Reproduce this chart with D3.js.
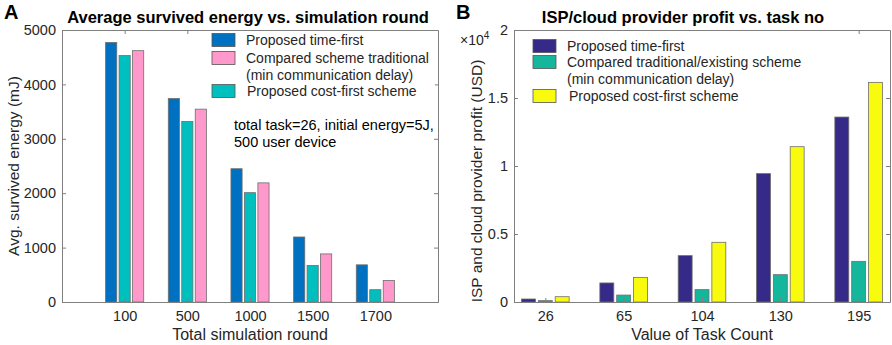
<!DOCTYPE html>
<html>
<head>
<meta charset="utf-8">
<script src="https://cdn.jsdelivr.net/npm/d3@7"></script>
<style>
  html, body { margin: 0; padding: 0; background: #fff; }
  svg { display: block; font-family: "Liberation Sans", Arial, sans-serif; }
</style>
</head>
<body>
<div id="vis"></div>
<script>
// Panel A data: average survived energy (mJ)
const roundsA = ["100", "500", "1000", "1500", "1700"];
const timeFirstA = [4770, 3740, 2450, 1195, 683];
const costFirstA = [4530, 3320, 2010, 671, 226];
const traditionalA = [4620, 3545, 2190, 884, 396];
const yTicksA = [0, 1000, 2000, 3000, 4000, 5000];

// Panel B data: ISP/cloud provider profit (USD)
const tasksB = ["26", "65", "104", "130", "195"];
const timeFirstB = [220, 1400, 3410, 9440, 13600];
const traditionalB = [100, 510, 910, 2010, 2990];
const costFirstB = [390, 1810, 4390, 11420, 16150];
const yTicksB = [0, 5000, 10000, 15000, 20000];

const width = 892;
const height = 345;

const svg = d3.select("#vis")
  .append("svg")
  .attr("width", width)
  .attr("height", height);

const axisColor = "#7f7f7f";
const textColor = "#262626";

function drawPanel(cfg) {
  const g = svg.append("g");

  const x = d3.scaleLinear().domain(cfg.xDomain).range([cfg.left, cfg.right]);
  const y = d3.scaleLinear().domain(cfg.yDomain).range([cfg.bottom, cfg.top]);
  const unit = x(1) - x(0);
  const pitch = 0.215 * unit;
  const barW = 0.178 * unit;
  const positions = cfg.categories.map((c, i) => i + 1);

  // bars
  cfg.series.forEach((s, si) => {
    g.selectAll(null)
      .data(s.values)
      .enter()
      .append("rect")
      .attr("x", (d, i) => x(positions[i]) + (si - 1) * pitch - barW / 2)
      .attr("y", d => y(d))
      .attr("width", barW)
      .attr("height", d => y(0) - y(d))
      .attr("fill", s.color)
      .attr("stroke", "#6e6e6e")
      .attr("stroke-width", 0.8);
  });

  // box axes with inward ticks
  const styleAxis = sel => {
    sel.select(".domain").attr("stroke", axisColor);
    sel.selectAll(".tick line").attr("stroke", axisColor);
    sel.selectAll("text")
      .attr("fill", textColor)
      .style("font-size", "14.5px")
      .style("font-family", "'Liberation Sans', Arial, sans-serif");
  };

  g.append("g")
    .attr("transform", `translate(0,${cfg.top})`)
    .call(d3.axisTop(x).tickValues(positions).tickSizeInner(-4).tickSizeOuter(0).tickFormat(""))
    .call(styleAxis);

  g.append("g")
    .attr("transform", `translate(${cfg.right},0)`)
    .call(d3.axisRight(y).tickValues(cfg.yTicks).tickSizeInner(-4).tickSizeOuter(0).tickFormat(""))
    .call(styleAxis);

  g.append("g")
    .attr("transform", `translate(0,${cfg.bottom})`)
    .call(d3.axisBottom(x).tickValues(positions).tickSizeInner(-4).tickSizeOuter(0)
      .tickPadding(9).tickFormat((d, i) => cfg.categories[i]))
    .call(styleAxis);

  g.append("g")
    .attr("transform", `translate(${cfg.left},0)`)
    .call(d3.axisLeft(y).tickValues(cfg.yTicks).tickSizeInner(-4).tickSizeOuter(0)
      .tickPadding(6).tickFormat(cfg.yFormat))
    .call(styleAxis);

  // legend (white background hides ticks behind it)
  const leg = g.append("g");
  const legBg = leg.append("rect").attr("fill", "#fff");
  cfg.legend.forEach(item => {
    leg.append("rect")
      .attr("x", cfg.legX)
      .attr("y", item.y - 6.5)
      .attr("width", 23)
      .attr("height", 13)
      .attr("fill", item.color)
      .attr("stroke", "#555")
      .attr("stroke-width", 0.8);
    item.lines.forEach((t, li) => {
      leg.append("text")
        .attr("x", cfg.legX + 34 + (item.dx || 0))
        .attr("y", item.y + li * 17)
        .attr("dy", "0.35em")
        .attr("fill", textColor)
        .style("font-size", "14px")
        .text(t);
    });
  });
  const bb = leg.node().getBBox();
  legBg.attr("x", bb.x - 6).attr("y", cfg.top + 1)
    .attr("width", bb.width + 12).attr("height", bb.y + bb.height + 4 - cfg.top);

  // title
  g.append("text")
    .attr("x", cfg.titleX)
    .attr("y", 23)
    .attr("text-anchor", "middle")
    .attr("fill", "#000")
    .style("font-size", "16.5px")
    .style("font-weight", "bold")
    .text(cfg.title);

  // panel letter
  g.append("text")
    .attr("x", cfg.letterX)
    .attr("y", 19)
    .attr("fill", "#000")
    .style("font-size", "20px")
    .style("font-weight", "bold")
    .text(cfg.letter);

  // axis labels
  g.append("text")
    .attr("x", (cfg.left + cfg.right) / 2)
    .attr("y", 340)
    .attr("text-anchor", "middle")
    .attr("fill", textColor)
    .style("font-size", "16px")
    .text(cfg.xLabel);

  g.append("text")
    .attr("transform", `translate(${cfg.yLabelX},${cfg.yLabelY}) rotate(-90)`)
    .attr("text-anchor", "middle")
    .attr("fill", textColor)
    .style("font-size", "15.5px")
    .text(cfg.yLabel);

  return g;
}

// Panel A
const panelA = drawPanel({
  letter: "A", letterX: 4,
  title: "Average survived energy vs. simulation round", titleX: 248,
  left: 62, right: 438, top: 30, bottom: 302,
  xDomain: [0, 6], yDomain: [0, 5000], yTicks: yTicksA,
  yFormat: d3.format("d"),
  categories: roundsA,
  series: [
    { values: timeFirstA, color: "#0070c0" },
    { values: costFirstA, color: "#00bfbf" },
    { values: traditionalA, color: "#ff99cc" }
  ],
  legX: 212,
  legend: [
    { y: 40, color: "#0070c0", lines: ["Proposed time-first"] },
    { y: 58, color: "#ff99cc", lines: ["Compared scheme traditional", "(min communication delay)"] },
    { y: 91, color: "#00bfbf", lines: ["Proposed cost-first scheme"], dx: 1 }
  ],
  xLabel: "Total simulation round",
  yLabel: "Avg. survived energy (mJ)", yLabelX: 19, yLabelY: 166
});

panelA.append("text")
  .attr("x", 234).attr("y", 125).attr("dy", "0.35em")
  .attr("fill", "#000")
  .style("font-size", "14.5px")
  .text("total task=26, initial energy=5J,");
panelA.append("text")
  .attr("x", 234).attr("y", 142).attr("dy", "0.35em")
  .attr("fill", "#000")
  .style("font-size", "14.5px")
  .text("500 user device");

// Panel B
const panelB = drawPanel({
  letter: "B", letterX: 456,
  title: "ISP/cloud provider profit vs. task no", titleX: 683,
  left: 514, right: 890, top: 30, bottom: 302,
  xDomain: [0.6, 5.4], yDomain: [0, 20000], yTicks: yTicksB,
  yFormat: d => d3.format("~g")(d / 1e4),
  categories: tasksB,
  series: [
    { values: timeFirstB, color: "#352a87" },
    { values: traditionalB, color: "#14b79c" },
    { values: costFirstB, color: "#f9fb0e" }
  ],
  legX: 533,
  legend: [
    { y: 46, color: "#352a87", lines: ["Proposed time-first"] },
    { y: 62, color: "#14b79c", lines: ["Compared traditional/existing scheme", "(min communication delay)"] },
    { y: 96, color: "#f9fb0e", lines: ["Proposed cost-first scheme"], dx: 2 }
  ],
  xLabel: "Value of Task Count",
  yLabel: "ISP and cloud provider profit (USD)", yLabelX: 482, yLabelY: 181
});

// exponent label
const expo = panelB.append("text")
  .attr("x", 460).attr("y", 45)
  .attr("fill", textColor)
  .style("font-size", "14px");
expo.append("tspan").text("\u00d710");
expo.append("tspan").attr("dy", "-6").style("font-size", "10px").text("4");
</script>
</body>
</html>
